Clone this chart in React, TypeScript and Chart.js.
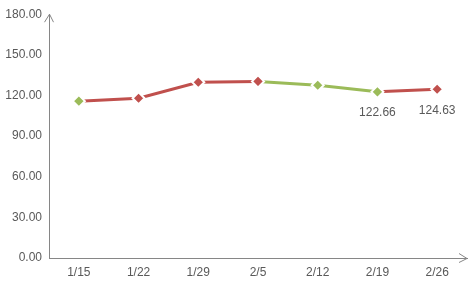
import React, { useEffect, useRef } from "react";
import { Chart, registerables } from "chart.js";

Chart.register(...registerables);

const categories = ["1/15", "1/22", "1/29", "2/5", "2/12", "2/19", "2/26"];
const values = [115.8, 118.0, 129.8, 130.4, 127.6, 122.66, 124.63];
const labeledIndexes = [5, 6];
const yMin = 0;
const yMax = 180;
const yStep = 30;

const RED = "#C0504D";
const GREEN = "#9BBB59";
const AXIS = "#868686";
const TEXT = "#595959";
const FONT = "'Liberation Sans', Arial, sans-serif";

const pointColors = values.map((v, i) => (i === 0 || v < values[i - 1] ? GREEN : RED));

const extrasPlugin = {
  id: "extras",
  afterDraw(chart: any) {
    const ctx = chart.ctx as CanvasRenderingContext2D;
    const area = chart.chartArea;
    const x0 = chart.scales.x.left;
    const yBottom = chart.scales.y.bottom;
    ctx.save();
    ctx.strokeStyle = AXIS;
    ctx.lineWidth = 1;
    // y-axis arrow
    ctx.beginPath();
    ctx.moveTo(x0 - 4.5, area.top + 8);
    ctx.lineTo(x0 + 0.5, area.top);
    ctx.lineTo(x0 + 4.5, area.top + 8);
    ctx.stroke();
    // x-axis arrow
    const xr = area.right;
    ctx.beginPath();
    ctx.moveTo(xr - 8, yBottom - 4.5);
    ctx.lineTo(xr, yBottom + 0.5);
    ctx.lineTo(xr - 8, yBottom + 4.5);
    ctx.stroke();
    // data labels
    const meta = chart.getDatasetMeta(0);
    ctx.fillStyle = TEXT;
    ctx.font = `12px ${FONT}`;
    ctx.textAlign = "center";
    ctx.textBaseline = "middle";
    labeledIndexes.forEach((i) => {
      const el = meta.data[i];
      ctx.fillText(values[i].toFixed(2), el.x, el.y + 21);
    });
    ctx.restore();
  },
};

export default function App() {
  const ref = useRef<HTMLCanvasElement | null>(null);
  useEffect(() => {
    if (!ref.current) return;
    const chart = new Chart(ref.current, {
      type: "line",
      data: {
        labels: categories,
        datasets: [
          {
            data: values,
            borderWidth: 3,
            borderColor: RED,
            segment: {
              borderColor: (c: any) => (c.p1.parsed.y >= c.p0.parsed.y ? RED : GREEN),
            },
            pointStyle: "rectRot",
            pointRadius: 6,
            pointBackgroundColor: pointColors,
            pointBorderColor: "#ffffff",
            pointBorderWidth: 2,
            tension: 0,
          },
        ],
      },
      options: {
        animation: false,
        responsive: false,
        maintainAspectRatio: false,
        layout: { padding: { top: 14, right: 5, left: 0, bottom: 0 } },
        plugins: { legend: { display: false }, tooltip: { enabled: false } },
        scales: {
          x: {
            offset: true,
            grid: { display: false, drawTicks: false },
            border: { display: true, color: AXIS, width: 1 },
            ticks: { color: TEXT, font: { size: 12, family: FONT }, padding: 7, maxRotation: 0 },
            afterFit: (s: any) => {
              s.height = 30;
            },
          },
          y: {
            min: yMin,
            max: yMax,
            grid: { display: false, drawTicks: false },
            border: { display: true, color: AXIS, width: 1 },
            ticks: {
              stepSize: yStep,
              color: TEXT,
              font: { size: 12, family: FONT },
              padding: 7,
              callback: (v: any) => Number(v).toFixed(2),
            },
            afterFit: (s: any) => {
              s.width = 49;
            },
          },
        },
      },
      plugins: [extrasPlugin],
    });
    return () => chart.destroy();
  }, []);
  return (
    <div style={{ position: "fixed", left: 0, top: 0, width: 475, height: 288, background: "#fff" }}>
      <canvas ref={ref} width={475} height={288} style={{ width: 475, height: 288 }} />
    </div>
  );
}
